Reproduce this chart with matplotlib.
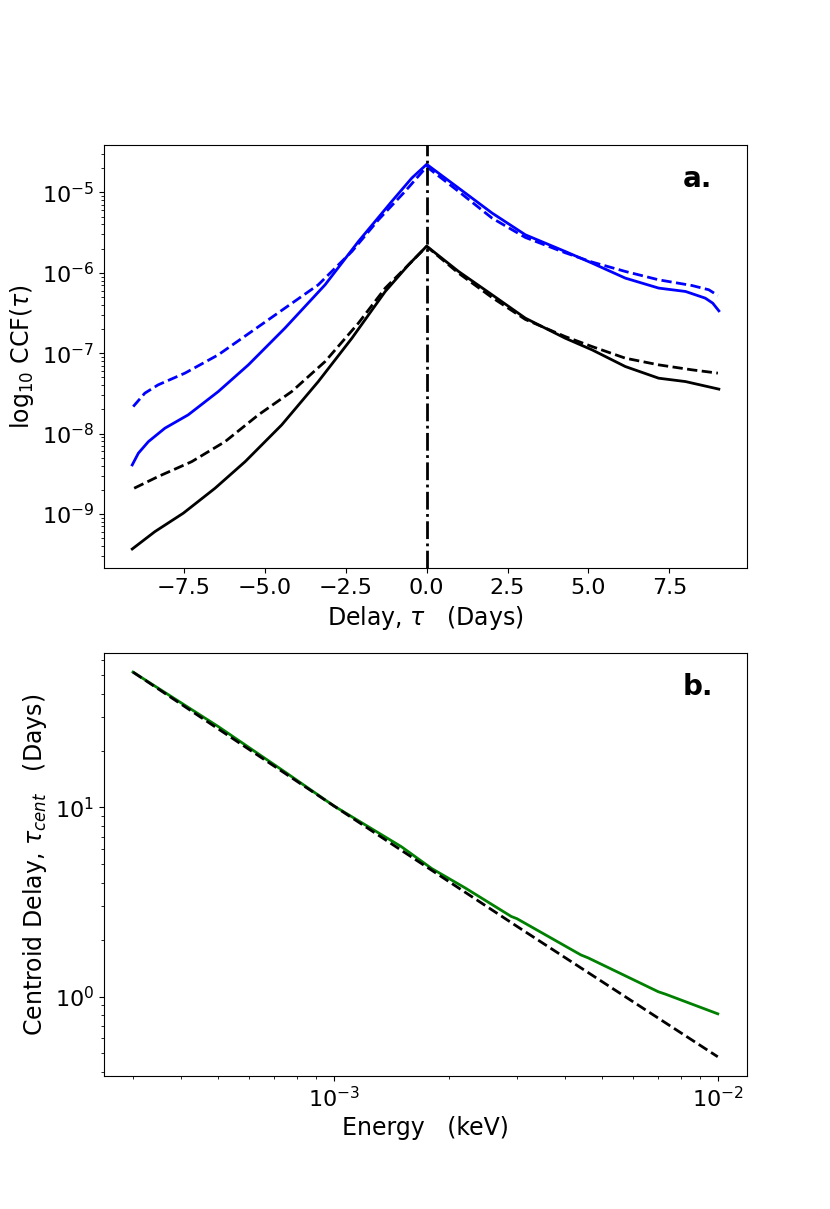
import numpy as np
import matplotlib
matplotlib.use("Agg")
import matplotlib.pyplot as plt

# ---------------- Panel a data (delay in days, log10 CCF) ----------------
blue_solid_x = [-9.10, -8.91, -8.60, -8.09, -7.37, -6.44, -5.51, -4.38, -3.14, -2.11, -1.08, -0.46, 0.0,
                0.985, 2.02, 3.05, 4.28, 5.11, 6.14, 7.17, 8.0, 8.61, 8.84, 9.03]
blue_solid_logy = [-8.39, -8.244, -8.10, -7.933, -7.767, -7.477, -7.145, -6.688, -6.149, -5.61, -5.112, -4.821, -4.650,
                   -4.945, -5.256, -5.527, -5.734, -5.879, -6.066, -6.19, -6.232, -6.315, -6.377, -6.473]

blue_dash_x = [-9.07, -8.71, -8.30, -7.47, -6.44, -5.41, -4.38, -3.35, -2.31, -1.49, -0.67, 0.0,
               0.985, 2.02, 3.05, 4.28, 5.11, 6.14, 7.17, 8.2, 8.72, 9.0]
blue_dash_logy = [-7.664, -7.497, -7.394, -7.248, -7.02, -6.73, -6.439, -6.149, -5.734, -5.34, -4.988, -4.680,
                  -4.987, -5.319, -5.56, -5.75, -5.866, -5.983, -6.087, -6.158, -6.211, -6.282]

black_solid_x = [-9.10, -8.40, -7.52, -6.54, -5.61, -4.48, -3.35, -2.31, -1.28, -0.56, 0.0,
                 0.985, 2.02, 3.05, 4.28, 5.11, 6.14, 7.17, 8.0, 9.03]
black_solid_logy = [-9.436, -9.22, -8.99, -8.68, -8.349, -7.892, -7.353, -6.813, -6.232, -5.90, -5.668,
                    -5.983, -6.273, -6.564, -6.813, -6.958, -7.166, -7.311, -7.353, -7.447]

black_dash_x = [-9.04, -8.30, -7.26, -6.23, -5.20, -4.17, -3.14, -2.11, -1.28, -0.56, 0.0,
                0.985, 2.02, 3.05, 4.28, 5.11, 6.14, 7.17, 8.2, 9.0]
black_dash_logy = [-8.68, -8.535, -8.349, -8.10, -7.767, -7.477, -7.104, -6.626, -6.19, -5.90, -5.672,
                   -6.004, -6.307, -6.58, -6.793, -6.917, -7.062, -7.145, -7.207, -7.248]

# ---------------- Panel b data (energy keV, centroid delay days) ----------------
energy_green = [3.0e-4, 5.0e-4, 7.5e-4, 1.0e-3, 1.5e-3, 1.8e-3, 2.2e-3, 2.9e-3, 3.0e-3,
                4.4e-3, 4.6e-3, 7.0e-3, 7.3e-3, 1.0e-2]
tau_green = [52.0, 26.8, 15.3, 10.2, 6.2, 4.75, 3.75, 2.65, 2.58,
             1.66, 1.60, 1.06, 1.03, 0.81]

energy_dash = [3.0e-4, 1.0e-3, 3.0e-3, 1.0e-2]
tau_dash = [52.0, 10.2, 2.35, 0.48]

fig, (ax1, ax2) = plt.subplots(2, 1, figsize=(8.3, 12.09), dpi=100)

lw = 2.0
ax1.plot(blue_solid_x, 10**np.array(blue_solid_logy), color='blue', lw=lw, ls='-')
ax1.plot(blue_dash_x, 10**np.array(blue_dash_logy), color='blue', lw=lw, ls='--')
ax1.plot(black_solid_x, 10**np.array(black_solid_logy), color='black', lw=lw, ls='-')
ax1.plot(black_dash_x, 10**np.array(black_dash_logy), color='black', lw=lw, ls='--')
ax1.set_yscale('log')
ax1.axvline(0.0, color='black', ls='-.', lw=lw)
ax1.set_xlim(-9.98, 9.9)
ax1.set_xlabel(r'Delay, $\tau$   (Days)', fontsize=17)
ax1.set_ylabel(r'log$_{10}$ CCF($\tau$)', fontsize=17)
ax1.tick_params(labelsize=16)
ax1.text(0.923, 0.90, 'a.', transform=ax1.transAxes, fontsize=20, fontweight='bold',
         ha='center', va='baseline')

ax2.plot(energy_green, tau_green, color='green', lw=lw, ls='-')
ax2.plot(energy_dash, tau_dash, color='black', lw=lw, ls='--')
ax2.set_xscale('log')
ax2.set_yscale('log')
ax2.set_xlabel('Energy   (keV)', fontsize=17)
ax2.set_ylabel(r'Centroid Delay, $\tau_{cent}$   (Days)', fontsize=17)
ax2.tick_params(labelsize=16)
ax2.text(0.923, 0.90, 'b.', transform=ax2.transAxes, fontsize=20, fontweight='bold',
         ha='center', va='baseline')

fig.savefig('out.png', dpi=100)
